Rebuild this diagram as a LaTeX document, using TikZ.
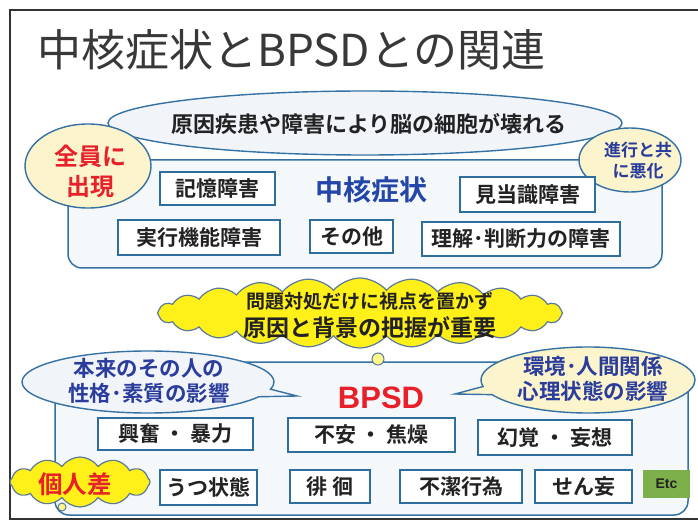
\documentclass[tikz,border=0pt]{standalone}
\usepackage{fontspec}
\setmainfont{Noto Sans CJK JP}[BoldFont={Noto Sans CJK JP Bold}]
\newfontfamily\latinfont{Liberation Sans}
\usetikzlibrary{shapes.geometric,shapes.symbols,shapes.callouts}
\definecolor{lineblue}{HTML}{3571A3}
\definecolor{boxblue}{HTML}{2E6E9E}
\definecolor{innerfill}{HTML}{F4F8FB}
\definecolor{paleyellow}{HTML}{FBF4CC}
\definecolor{palewhite}{HTML}{F1F5FA}
\definecolor{cloudyellow}{HTML}{FFF01A}
\definecolor{cloudline}{HTML}{5A7A9A}
\definecolor{redtext}{HTML}{E8202A}
\definecolor{bluetext}{HTML}{2A3C9C}
\definecolor{coreblue}{HTML}{2346A8}
\definecolor{etcgreen}{HTML}{7DB04A}
\definecolor{darktext}{HTML}{222222}
\tikzset{
  bigbox/.style={draw=lineblue, line width=1.5pt, fill=innerfill, rounded corners=14pt},
  tbox/.style={draw=boxblue, line width=1.3pt, fill=white, inner sep=0pt, text=darktext,
    font=\bfseries\fontsize{21}{24}\selectfont},
  oval/.style={ellipse, draw=lineblue, line width=1.4pt, inner sep=0pt},
  bubble/.style={ellipse callout, draw=lineblue, line width=1.4pt, inner sep=0pt},
  puff/.style={cloud, cloud ignores aspect, draw=cloudline, line width=1.2pt, fill=cloudyellow, inner sep=0pt},
  lbl/.style={inner sep=0pt, align=center},
}
\begin{document}
\begin{tikzpicture}[x=1pt,y=-1pt]
\useasboundingbox (0,0) rectangle (698,526);
\clip (0,0) rectangle (698,526);
\fill[white] (0,0) rectangle (698,526);
% outer frame
\draw[line width=2.5pt, draw=black!80] (10,10) rectangle (720,519);
% title
\node[lbl, anchor=west, text=darktext!90, font=\fontsize{44}{48}\selectfont] (title) at (37,50) {中核症状とBPSDとの関連};

% core symptoms box
\draw[bigbox] (68,160) rectangle (662,268);
\node[oval, fill=palewhite, minimum width=514pt, minimum height=64pt] (cause) at (365,123) {};
\node[lbl, text=darktext, font=\bfseries\fontsize{22}{26}\selectfont] (causet) at (369,124) {原因疾患や障害により脳の細胞が壊れる};
\node[oval, fill=paleyellow, minimum width=126pt, minimum height=84pt] (all) at (88,166) {};
\node[lbl, text=redtext, font=\bfseries\fontsize{24}{30}\selectfont] (allt) at (90,171) {全員に\\出現};
\node[oval, fill=paleyellow, minimum width=102pt, minimum height=64pt] (prog) at (630,160) {};
\node[lbl, text=bluetext, font=\bfseries\fontsize{17}{21}\selectfont] (progt) at (638,161) {進行と共\\に悪化};

\node[lbl, text=coreblue, font=\bfseries\fontsize{28}{32}\selectfont] (core) at (371,190) {中核症状};
\node[tbox, minimum width=115pt, minimum height=33pt] (mem) at (217.5,188.5) {記憶障害};
\node[tbox, minimum width=135pt, minimum height=35pt] (ori) at (527.5,194.5) {見当識障害};
\node[tbox, minimum width=162pt, minimum height=35pt] (exe) at (199,237.5) {実行機能障害};
\node[tbox, minimum width=83pt, minimum height=33pt] (oth) at (351.5,236.5) {その他};
\node[tbox, minimum width=198pt, minimum height=34pt] (jud) at (521,239) {理解･判断力の障害};

% yellow cloud
\node[puff, cloud puffs=24, cloud puff arc=100, minimum width=405pt, minimum height=70pt] (msg) at (360,313) {};
\node[lbl, text=darktext, font=\bfseries\fontsize{19}{22}\selectfont] (msg1) at (370,301) {問題対処だけに視点を置かず};
\node[lbl, text=darktext, font=\bfseries\fontsize{23}{26}\selectfont] (msg2) at (370,328) {原因と背景の把握が重要};

% BPSD box
\draw[bigbox] (55,362) rectangle (688,515);
\node[circle, draw=cloudline, fill=cloudyellow!50, line width=1pt, minimum size=12pt, inner sep=0pt] (dot) at (378,359) {};
\node[bubble, fill=palewhite, minimum width=252pt, minimum height=62pt, callout absolute pointer={(297,396)}] (pers) at (148,382) {};
\node[lbl, text=bluetext, font=\bfseries\fontsize{21.5}{25}\selectfont] (perst) at (149,381) {本来のその人の\\性格･素質の影響};
\node[bubble, fill=paleyellow, minimum width=214pt, minimum height=66pt, callout absolute pointer={(455,394)}] (env) at (588,380) {};
\node[lbl, text=bluetext, font=\bfseries\fontsize{21.5}{25}\selectfont] (envt) at (593,379) {環境･人間関係\\心理状態の影響};
\node[lbl, text=redtext, font=\latinfont\bfseries\fontsize{31}{34}\selectfont] (bpsd) at (381,398) {BPSD};

\node[tbox, minimum width=155pt, minimum height=32pt] (exc) at (175.5,434) {興奮 ・ 暴力};
\node[tbox, minimum width=167pt, minimum height=34pt] (anx) at (371.5,435) {不安 ・ 焦燥};
\node[tbox, minimum width=154pt, minimum height=35pt] (hal) at (555,437.5) {幻覚 ・ 妄想};
\node[tbox, minimum width=97pt, minimum height=35pt] (dep) at (208.5,487.5) {うつ状態};
\node[tbox, minimum width=80pt, minimum height=33pt] (wan) at (330,486.5) {徘 徊};
\node[tbox, minimum width=122pt, minimum height=33pt] (unc) at (461,486.5) {不潔行為};
\node[tbox, minimum width=97pt, minimum height=33pt] (del) at (583.5,486.5) {せん妄};
\node[fill=etcgreen, minimum width=47pt, minimum height=28pt, inner sep=0pt, text=darktext, font=\latinfont\bfseries\fontsize{14}{16}\selectfont] (etc) at (666.5,484) {Etc};

% individual difference cloud
\node[puff, cloud puffs=12, cloud puff arc=110, minimum width=140pt, minimum height=50pt] (ind) at (80,482) {};
\node[lbl, text=redtext, font=\bfseries\fontsize{24.5}{28}\selectfont] (indt) at (75,484) {個人差};
\node[circle, draw=cloudline, fill=cloudyellow!50, line width=1pt, minimum size=8pt, inner sep=0pt] (inddot) at (62,507) {};
\end{tikzpicture}
\end{document}
